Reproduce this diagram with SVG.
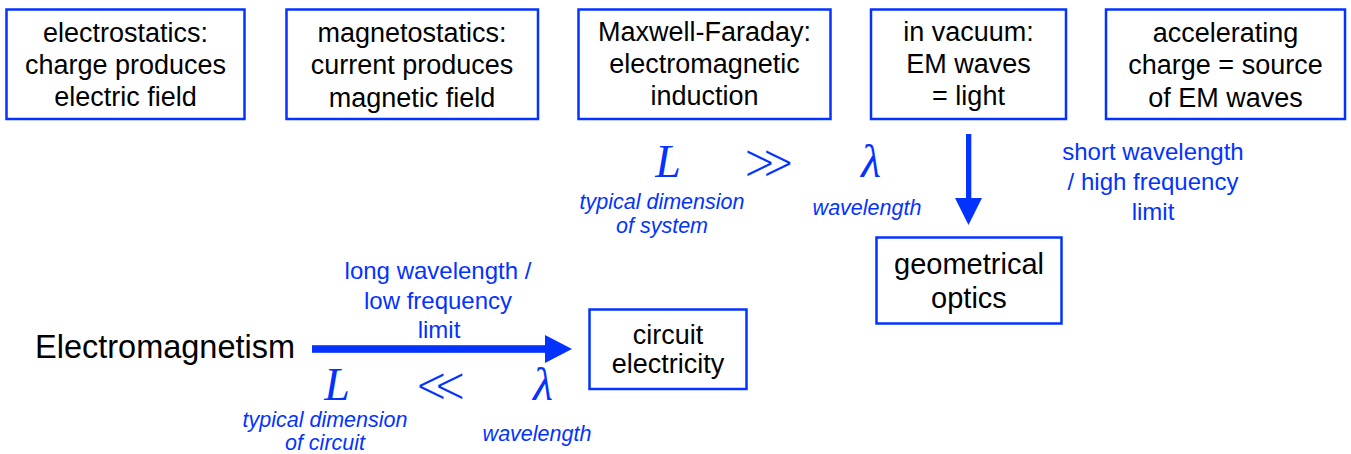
<svg xmlns="http://www.w3.org/2000/svg" width="1351" height="454" viewBox="0 0 1351 454">
<style>
.box{fill:#fff;stroke:#0433FF;stroke-width:2.5}
.bt{font-family:"Liberation Sans",Arial,sans-serif;font-size:27px;fill:#000;text-anchor:middle}
.big{font-family:"Liberation Sans",Arial,sans-serif;font-size:29px;fill:#000;text-anchor:middle}
.lbl{font-family:"Liberation Sans",Arial,sans-serif;font-size:24px;fill:#0433FF;text-anchor:middle}
.it{font-family:"Liberation Sans",Arial,sans-serif;font-size:21.5px;font-style:italic;fill:#0433FF;text-anchor:middle}
.math{font-family:"Liberation Serif","Times New Roman",serif;font-size:46px;font-style:italic;fill:#0433FF;text-anchor:middle}
.rel{font-family:"DejaVu Sans",sans-serif;font-size:50px;fill:#0433FF;stroke:#fff;stroke-width:2.2;text-anchor:middle}
.arr{fill:#0433FF}
</style>
<g id="n-electrostatics">
<rect class="box" x="6.5" y="9.5" width="238" height="109.5"/>
<text class="bt" x="125.5" y="42">electrostatics:</text>
<text class="bt" x="125.5" y="74">charge produces</text>
<text class="bt" x="125.5" y="106">electric field</text>
</g>
<g id="n-magnetostatics">
<rect class="box" x="286.5" y="9.5" width="251.5" height="109.5"/>
<text class="bt" x="412" y="42">magnetostatics:</text>
<text class="bt" x="412" y="74">current produces</text>
<text class="bt" x="412" y="106.5">magnetic field</text>
</g>
<g id="n-maxwell">
<rect class="box" x="578.5" y="9.5" width="252" height="109.5"/>
<text class="bt" x="704.5" y="41">Maxwell-Faraday:</text>
<text class="bt" x="704.5" y="73">electromagnetic</text>
<text class="bt" x="704.5" y="105">induction</text>
</g>
<g id="n-vacuum">
<rect class="box" x="871" y="9.5" width="195" height="109.5"/>
<text class="bt" x="968.5" y="40.5">in vacuum:</text>
<text class="bt" x="968.5" y="73">EM waves</text>
<text class="bt" x="968.5" y="105">= light</text>
</g>
<g id="n-accelerating">
<rect class="box" x="1106" y="9.5" width="239" height="109.5"/>
<text class="bt" x="1225.5" y="41.5">accelerating</text>
<text class="bt" x="1225.5" y="74">charge = source</text>
<text class="bt" x="1225.5" y="106.5">of EM waves</text>
</g>
<g id="n-geometrical-optics">
<rect class="box" x="876.5" y="237.5" width="185" height="86"/>
<text class="big" x="969" y="273.5">geometrical</text>
<text class="big" x="969" y="308">optics</text>
</g>
<g id="n-circuit">
<rect class="box" x="589.5" y="309.5" width="157" height="79.5"/>
<text class="bt" x="668" y="343.5">circuit</text>
<text class="bt" x="668" y="373">electricity</text>
</g>
<g id="n-electromagnetism">
<text x="35" y="357.5" font-family="Liberation Sans,Arial,sans-serif" font-size="32.5" fill="#000">Electromagnetism</text>
</g>
<g id="connectors">
<rect class="arr" x="312" y="345.2" width="234" height="7.6"/>
<polygon class="arr" points="545,335 572,349 545,363"/>
<rect class="arr" x="966" y="134" width="5.3" height="65"/>
<polygon class="arr" points="955,198 982,198 968.5,225"/>
</g>
<g id="labels">
<text class="lbl" x="1153" y="160">short wavelength</text>
<text class="lbl" x="1153" y="190">/ high frequency</text>
<text class="lbl" x="1153" y="220">limit</text>
<text class="lbl" x="438" y="279">long wavelength /</text>
<text class="lbl" x="438" y="309">low frequency</text>
<text class="lbl" x="439" y="338">limit</text>
<text class="it" x="662" y="209">typical dimension</text>
<text class="it" x="662" y="233">of system</text>
<text class="it" x="867" y="215">wavelength</text>
<text class="it" x="325" y="427">typical dimension</text>
<text class="it" x="325" y="450">of circuit</text>
<text class="it" x="537" y="441">wavelength</text>
<text class="math" x="668" y="177">L</text>
<text class="rel" x="769" y="179">≫</text>
<text class="math" x="871" y="177">λ</text>
<text class="math" x="337" y="400">L</text>
<text class="rel" x="441" y="402">≪</text>
<text class="math" x="543" y="400">λ</text>
</g>
</svg>
